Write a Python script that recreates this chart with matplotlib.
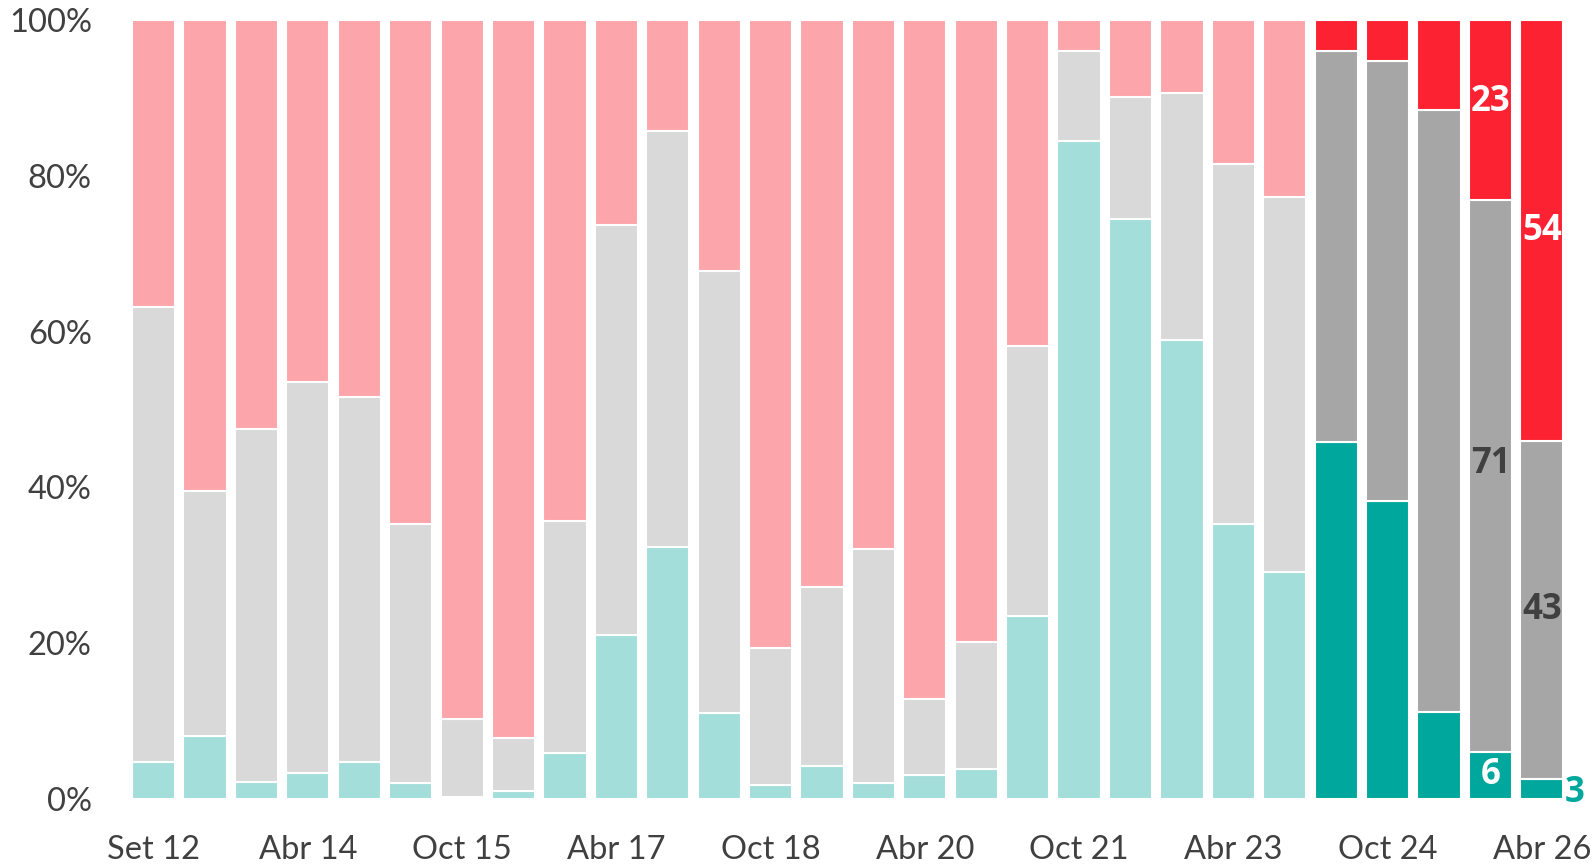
import matplotlib
matplotlib.use("Agg")
import matplotlib.pyplot as plt
import numpy as np

plt.rcParams['font.family'] = ['Lato', 'DejaVu Sans']

# share of each answer per survey wave (%)
favor = [4.8, 8.1, 2.2, 3.4, 4.8, 2.0, 0.3, 1.0, 5.9, 21.1, 32.3, 11.1, 1.8, 4.2,
         2.0, 3.1, 3.8, 23.5, 84.4, 74.4, 58.9, 35.3, 29.1, 45.8, 38.2, 11.2, 6.1, 2.6]
neutral = [58.4, 31.5, 45.3, 50.1, 46.8, 33.3, 10.0, 6.8, 29.8, 52.6, 53.4, 56.7, 17.6, 23.0,
           30.1, 9.8, 16.4, 34.6, 11.6, 15.7, 31.7, 46.2, 48.2, 50.2, 56.5, 77.2, 70.8, 43.3]
against = [36.8, 60.4, 52.5, 46.5, 48.4, 64.7, 89.7, 92.2, 64.3, 26.3, 14.3, 32.2, 80.6, 72.8,
           67.9, 87.1, 79.8, 41.9, 4.0, 9.9, 9.4, 18.5, 22.7, 4.0, 5.3, 11.6, 23.1, 54.1]

tick_pos = [0, 3, 6, 9, 12, 15, 18, 21, 24, 27]
tick_labels = ['Set 12', 'Abr 14', 'Oct 15', 'Abr 17', 'Oct 18', 'Abr 20',
               'Oct 21', 'Abr 23', 'Oct 24', 'Abr 26']

# bars from index 23 on are highlighted
n_old = 23
labels_26 = ['6', '71', '23']
labels_27 = ['3', '43', '54']

light = ['#a3deda', '#d9d9d9', '#fca6ac']
dark = ['#00a79d', '#a6a6a6', '#fc2232']
txt = '#404040'
lab_font = dict(fontsize=25, fontweight='bold', family=['Open Sans', 'DejaVu Sans'])

fig = plt.figure(figsize=(15.93, 8.64), dpi=100)
ax = fig.add_axes([0.0803, 0.0752, 0.9037, 0.9017])

x = np.arange(len(favor))
f = np.array(favor)
n = np.array(neutral)
a = np.array(against)
cols = [[light[k] if i < n_old else dark[k] for i in x] for k in range(3)]

ax.bar(x, f, width=0.84, color=cols[0], edgecolor='white', linewidth=1.5)
ax.bar(x, n, bottom=f, width=0.84, color=cols[1], edgecolor='white', linewidth=1.5)
ax.bar(x, a, bottom=f + n, width=0.84, color=cols[2], edgecolor='white', linewidth=1.5)

# value labels on last two bars
i = 26
ax.text(i, f[i] / 2, labels_26[0], ha='center', va='center', color='white', **lab_font)
ax.text(i, f[i] + n[i] / 2 + 1.5, labels_26[1], ha='center', va='center', color=txt, **lab_font)
ax.text(i, f[i] + n[i] + a[i] / 2 + 1, labels_26[2], ha='center', va='center', color='white',
        **lab_font)
i = 27
ax.text(i + 0.63, f[i] / 2 - 0.5, labels_27[0], ha='center', va='center', color=dark[0],
        clip_on=False, **lab_font)
ax.text(i, f[i] + n[i] / 2, labels_27[1], ha='center', va='center', color=txt, **lab_font)
ax.text(i, f[i] + n[i] + a[i] / 2, labels_27[2], ha='center', va='center', color='white',
        **lab_font)

ax.set_xlim(-0.5, len(favor) - 0.5)
ax.set_ylim(0, 100)
ax.set_yticks([0, 20, 40, 60, 80, 100])
ax.set_yticklabels(['0%', '20%', '40%', '60%', '80%', '100%'])
ax.set_xticks(tick_pos)
ax.set_xticklabels(tick_labels)
ax.tick_params(axis='both', length=0, labelsize=23.5, colors=txt)
ax.tick_params(axis='y', pad=26)
ax.tick_params(axis='x', pad=26)
for s in ax.spines.values():
    s.set_visible(False)

fig.savefig('out.png', dpi=100)
